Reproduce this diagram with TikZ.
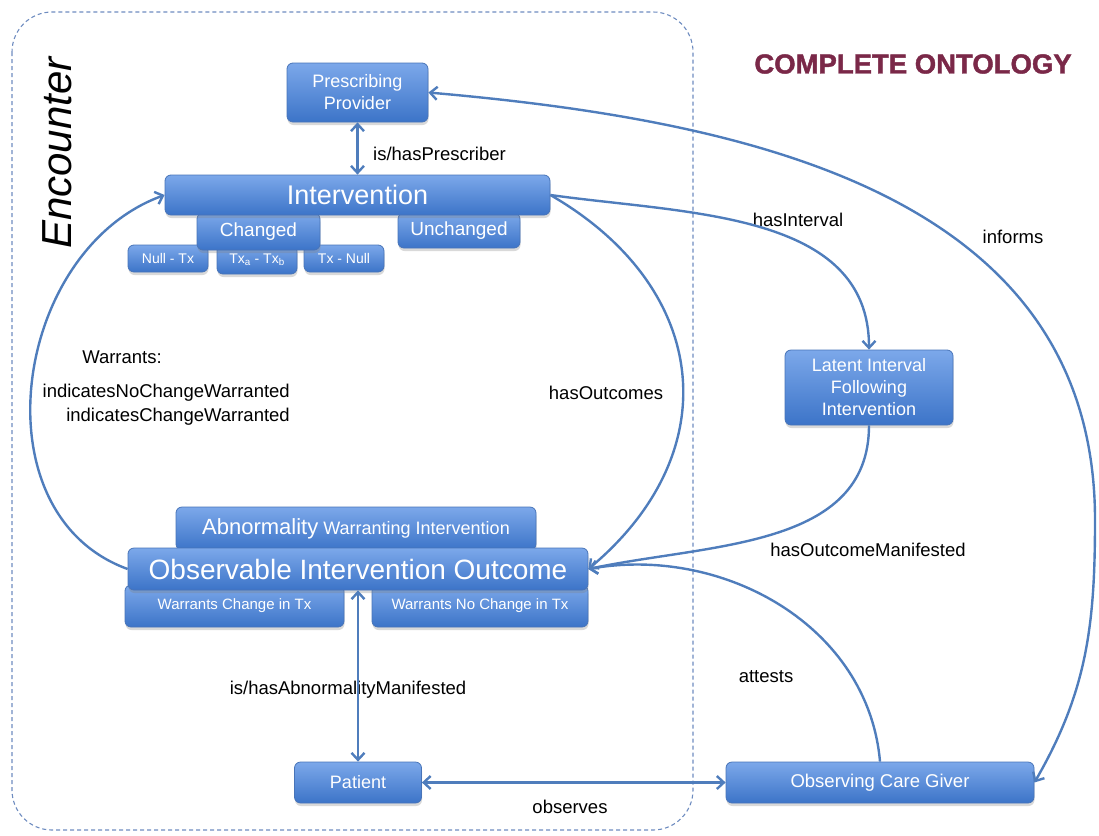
\documentclass[tikz,border=0pt]{standalone}
\usepackage{fontspec}
\setmainfont{Liberation Sans}
\usetikzlibrary{positioning,arrows.meta,shadows}
\definecolor{ptrColor}{RGB}{79,125,188}
\definecolor{boxTop}{RGB}{124,168,234}
\definecolor{boxBottom}{RGB}{60,116,200}
\definecolor{boxLine}{RGB}{72,116,184}
\definecolor{encLine}{RGB}{110,140,192}
\definecolor{titleColor}{RGB}{122,40,72}
\tikzset{
    ontoNode/.style={
        rectangle,
        rounded corners=6pt,
        draw=boxLine,
        line width=0.8pt,
        top color=boxTop,
        bottom color=boxBottom,
        drop shadow={shadow xshift=0.5pt, shadow yshift=-3pt, opacity=0.3},
        text=white,
        align=center,
        inner sep=0pt,
        font=\fontsize{18}{22}\selectfont
    },
    subNode/.style={
        font=\fontsize{14}{16}\selectfont
    },
    relPtr/.style={
        ->,
        >={Straight Barb[length=7pt, width=13pt]},
        line width=2.4pt,
        ptrColor
    },
    relLabel/.style={font=\fontsize{18.5}{24}\selectfont, inner sep=0pt},
    encBox/.style={draw=encLine, dash pattern=on 4pt off 3pt, line width=1.1pt, rounded corners=40pt}
}

\begin{document}
\begin{tikzpicture}[x=1pt, y=1pt]
    \useasboundingbox (0,0) rectangle (1099,-835);

    % Encounter
    \draw[encBox] (12,-12) rectangle (693,-830);
    \node[rotate=90, font=\fontsize{42}{44}\selectfont\itshape] (ENC) at (57,-153) {Encounter};
    \node[font=\fontsize{27.5}{30}\selectfont\bfseries\addfontfeature{FakeBold=1.5}, text=titleColor] (TITLE) at (913,-64) {COMPLETE ONTOLOGY};

    % Nodes
    \node[ontoNode, minimum width=141pt, minimum height=59pt] (PROVIDER) at (357.5,-92.5) {Prescribing\\Provider};
    \node[ontoNode, subNode, minimum width=80pt, minimum height=27pt] (NULLTX) at (168,-258.5) {Null - Tx};
    \node[ontoNode, subNode, minimum width=80pt, minimum height=29pt] (TXAB) at (257,-259.5) {Tx\textsubscript{a} - Tx\textsubscript{b}};
    \node[ontoNode, subNode, minimum width=80pt, minimum height=27pt] (TXNULL) at (344,-258.5) {Tx - Null};
    \node[ontoNode, font=\fontsize{19}{22}\selectfont, minimum width=123pt, minimum height=37pt] (CHANGED) at (258.5,-231.5) {Changed};
    \node[ontoNode, font=\fontsize{19}{22}\selectfont, minimum width=122pt, minimum height=35pt] (UNCHANGED) at (459,-230.5) {Unchanged};
    \node[ontoNode, font=\fontsize{27}{30}\selectfont, minimum width=385pt, minimum height=40pt] (INTERV) at (357.5,-195) {Intervention};

    \node[ontoNode, minimum width=168pt, minimum height=75pt] (LATENT) at (869,-387.5) {Latent Interval\\Following\\Intervention};

    \node[ontoNode, minimum width=360pt, minimum height=43pt] (ABNORM) at (356,-528.5) {{\fontsize{22}{24}\selectfont Abnormality} Warranting Intervention};
    \node[ontoNode, font=\fontsize{15}{18}\selectfont, minimum width=219pt, minimum height=42pt] (WCHANGE) at (234.5,-606) {Warrants Change in Tx};
    \node[ontoNode, font=\fontsize{15}{18}\selectfont, minimum width=216pt, minimum height=42pt] (WNOCHANGE) at (480,-606) {Warrants No Change in Tx};
    \node[ontoNode, font=\fontsize{28}{30}\selectfont, minimum width=460pt, minimum height=42pt] (OBSERV) at (358,-569) {Observable Intervention Outcome};

    \node[ontoNode, minimum width=127pt, minimum height=41pt] (PATIENT) at (358,-782.5) {Patient};
    \node[ontoNode, font=\fontsize{18.5}{22}\selectfont, minimum width=308pt, minimum height=41pt] (CARER) at (880,-782.5) {Observing Care Giver};

    % Labels
    \node[relLabel, anchor=west] (lblPrescriber) at (373,-154) {is/hasPrescriber};
    \node[relLabel] (lblInterval) at (798,-220) {hasInterval};
    \node[relLabel] (lblInforms) at (1013,-237) {informs};
    \node[relLabel] (lblWarrants) at (122,-357) {Warrants:};
    \node[relLabel, anchor=east, align=right] (lblIndicates) at (290,-405) {indicatesNoChangeWarranted\\indicatesChangeWarranted};
    \node[relLabel] (lblOutcomes) at (606,-393) {hasOutcomes};
    \node[relLabel] (lblManifested) at (868,-550) {hasOutcomeManifested};
    \node[relLabel] (lblAttests) at (766,-677) {attests};
    \node[relLabel] (lblAbnormality) at (348,-690) {is/hasAbnormalityManifested};
    \node[relLabel] (lblObserves) at (570,-807) {observes};

    % Connectors
    \coordinate (informsBend) at (1095,-520);
    \draw[relPtr, <->] (PROVIDER.south) -- (INTERV.north);
    \draw[relPtr, <->] (OBSERV.south) -- (PATIENT.north);
    \draw[relPtr, <->] (PATIENT.east) -- (CARER.west);
    \draw[relPtr] (INTERV.east) to[out=-8, in=90] (LATENT.north);
    \draw[relPtr] (INTERV.east) to[out=-30, in=40, looseness=1.25] (OBSERV.east);
    \draw[relPtr] (LATENT.south) to[out=-90, in=12] (OBSERV.east);
    \draw[relPtr] (CARER.north) to[out=95, in=10] (OBSERV.east);
    \draw[relPtr] (OBSERV.west) to[out=160, in=200, looseness=1.1] (INTERV.west);
    \draw[relPtr, <->] (PROVIDER.east) to[out=-5, in=90, looseness=1.05] (informsBend) to[out=-90, in=60] (CARER.east);
\end{tikzpicture}
\end{document}
